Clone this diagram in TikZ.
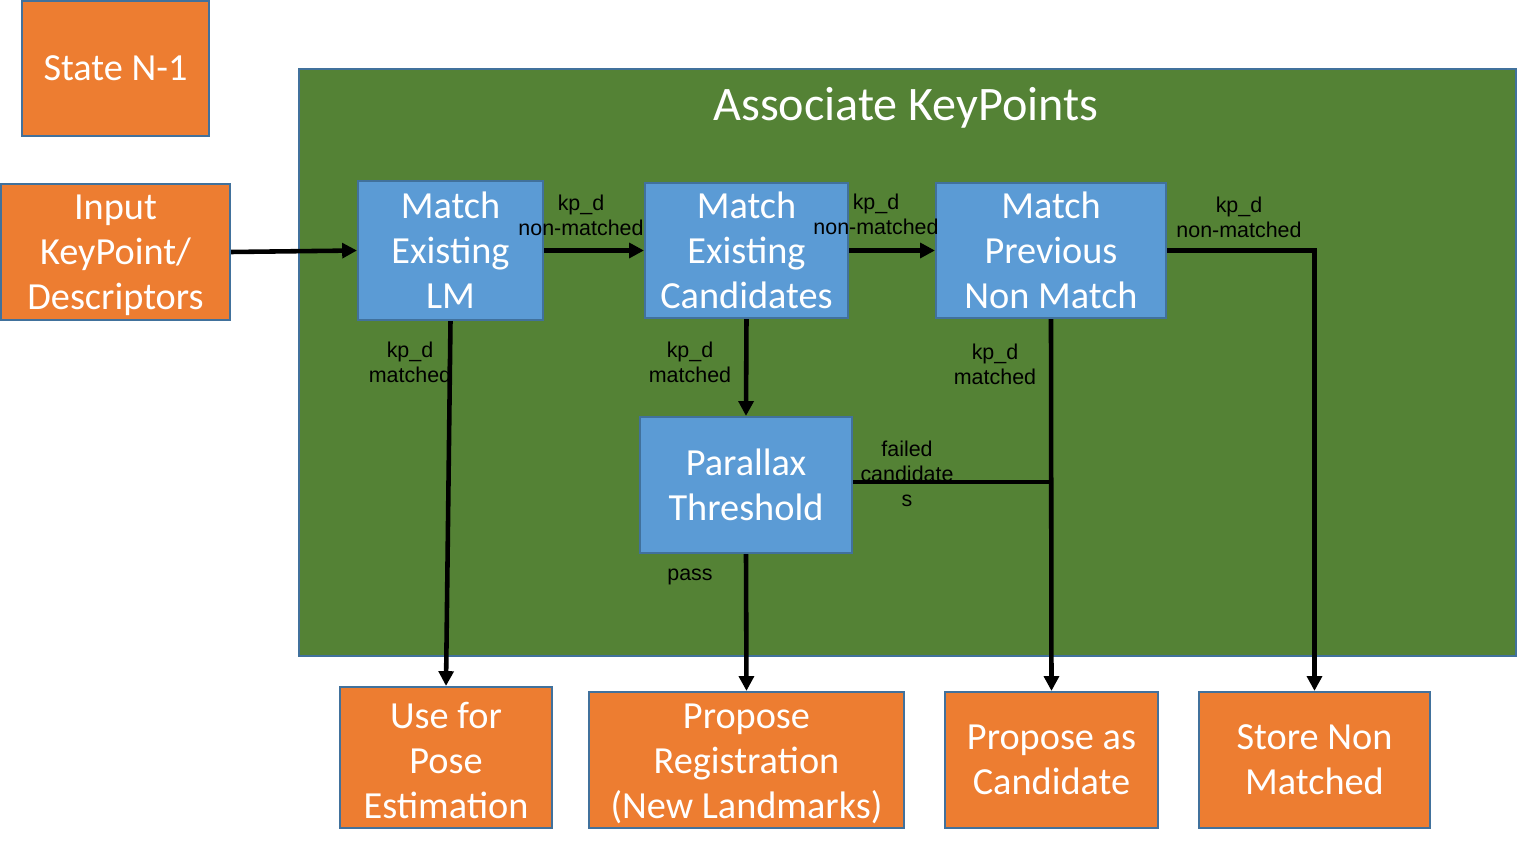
\documentclass[tikz,border=0pt]{standalone}
\usepackage{fontspec}
\setmainfont{Carlito}
\newfontfamily\labelfont{Liberation Sans}
\usetikzlibrary{arrows.meta,positioning,calc}
\definecolor{boxorange}{HTML}{ED7D31}
\definecolor{boxblue}{HTML}{5B9BD5}
\definecolor{edgeblue}{HTML}{41719C}
\definecolor{areagreen}{HTML}{548235}

\tikzset{
  block/.style={draw=edgeblue, line width=0.6pt, text=white, align=center,
    inner sep=0pt, font=\fontsize{10.9}{12.8}\selectfont},
  ioblock/.style={block, fill=boxorange},
  stepblock/.style={block, fill=boxblue},
  flow/.style={line width=1.3pt, -{Triangle[length=4.2pt,width=4.2pt]}},
  joint/.style={line width=1.3pt},
  tag/.style={font=\labelfont\fontsize{6.1}{7.1}\selectfont, align=center, inner sep=0pt}
}

\begin{document}
\begin{tikzpicture}
  \useasboundingbox (0,0) rectangle (15.17,-8.52);

  % Outer state / input
  \node[ioblock, minimum width=1.87cm, minimum height=1.35cm] (state) at (1.155,-0.685) {State N-1};
  \node[ioblock, minimum width=2.29cm, minimum height=1.36cm] (input) at (1.155,-2.52) {\strut Input\\KeyPoint/\\Descriptors};

  % Associate area
  \node[draw=edgeblue, line width=0.6pt, fill=areagreen, minimum width=12.17cm, minimum height=5.87cm, inner sep=0pt] (assoc) at (9.075,-3.625) {};
  \node[text=white, font=\fontsize{13.7}{15}\selectfont] (title) at (9.06,-1.08) {Associate KeyPoints};

  % Matching steps
  \node[stepblock, minimum width=1.85cm, minimum height=1.39cm] (lm) at (4.505,-2.505) {Match\\Existing\\LM};
  \node[stepblock, minimum width=2.03cm, minimum height=1.35cm] (cands) at (7.465,-2.505) {Match\\Existing\\Candidates};
  \node[stepblock, minimum width=2.30cm, minimum height=1.35cm] (prev) at (10.51,-2.505) {Match\\Previous\\Non Match};
  \node[stepblock, minimum width=2.12cm, minimum height=1.36cm] (para) at (7.46,-4.85) {Parallax\\Threshold};

  % Outputs
  \node[ioblock, minimum width=2.12cm, minimum height=1.41cm] (pose) at (4.46,-7.575) {\strut Use for\\Pose\\Estimation};
  \node[ioblock, minimum width=3.15cm, minimum height=1.36cm] (reg) at (7.465,-7.60) {\strut Propose\\Registration\\(New Landmarks)};
  \node[ioblock, minimum width=2.13cm, minimum height=1.36cm] (cand) at (10.515,-7.60) {Propose as\\Candidate};
  \node[ioblock, minimum width=2.31cm, minimum height=1.36cm] (store) at (13.145,-7.60) {Store Non\\Matched};

  % Connectors
  \draw[flow] (input.east) -- (lm.west);
  \draw[flow] (lm.east) -- (cands.west);
  \draw[flow] (cands.east) -- (prev.west);
  \draw[flow] (prev.east) -| (store.north);
  \draw[flow] (lm.south) -- (pose.north);
  \draw[flow] (cands.south) -- (para.north);
  \draw[flow] (para.south) -- (reg.north);
  \draw[flow] (prev.south) -- (cand.north);
  \draw[joint] ($(para.east)+(0,0.03)$) -- ($(para.east -| cand.north)+(0,0.03)$);

  % Labels
  \node[tag] (lmout) at (5.81,-2.155) {kp\_d\\non-matched};
  \node[tag] (candsout) at (8.76,-2.145) {kp\_d\\non-matched};
  \node[tag] (prevout) at (12.39,-2.175) {kp\_d\\non-matched};
  \node[tag] (lmin) at (4.10,-3.625) {kp\_d\\matched};
  \node[tag] (candsin) at (6.90,-3.625) {kp\_d\\matched};
  \node[tag] (previn) at (9.95,-3.645) {kp\_d\\matched};
  \node[tag] (failed) at (9.07,-4.735) {failed\\candidate\\s};
  \node[tag] (pass) at (6.90,-5.77) {pass};
\end{tikzpicture}
\end{document}
